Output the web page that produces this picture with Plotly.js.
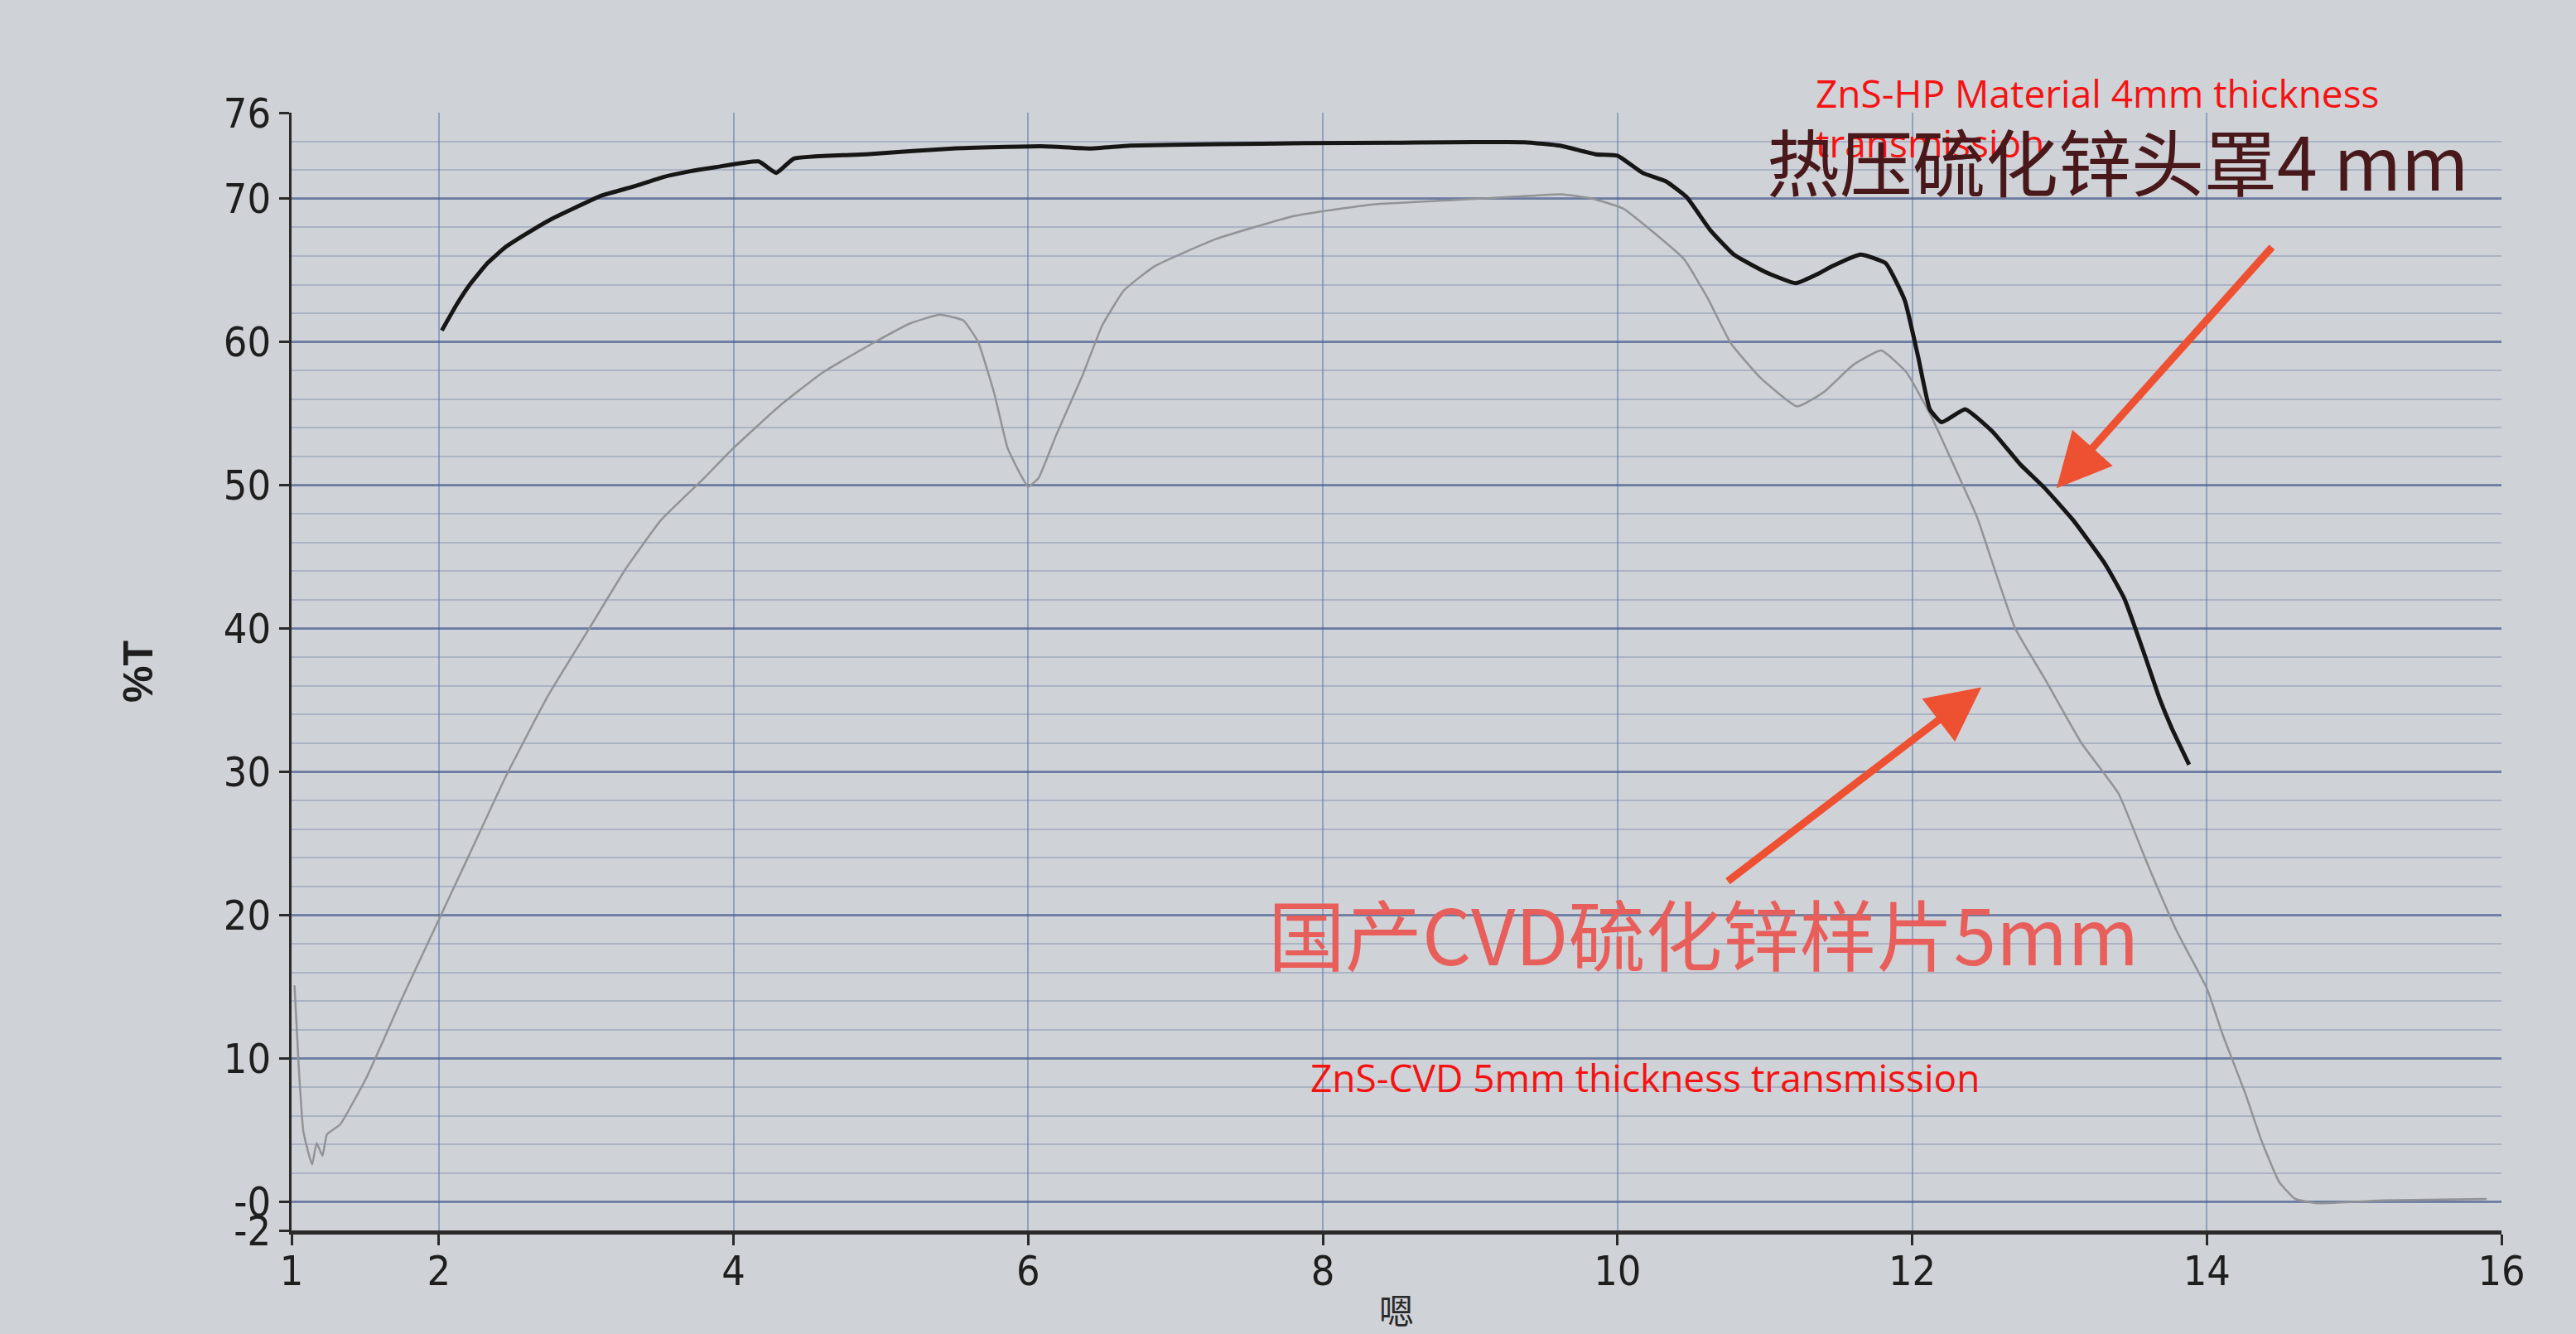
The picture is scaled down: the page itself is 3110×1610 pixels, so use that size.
<!DOCTYPE html>
<html><head><meta charset="utf-8">
<script src="https://cdn.plot.ly/plotly-3.0.1.min.js"></script>
<style>html,body{margin:0;padding:0;background:#cfd2d6;}</style>
</head><body>
<div id="chart" style="width:3110px;height:1610px;"></div>
<script>
// Hot-pressed ZnS dome, 4 mm (black trace)
const wavelengthHP = [2.02, 2.12, 2.21, 2.33, 2.45, 2.57, 2.75, 2.93, 3.1, 3.34, 3.52, 3.70, 3.88, 4.17, 4.29, 4.41, 4.9, 5.49, 6.09, 6.42, 6.69, 7.28, 7.88, 8.48, 9.37, 9.61, 9.85, 10.0, 10.17, 10.33, 10.47, 10.63, 10.79, 11.0, 11.21, 11.37, 11.46, 11.65, 11.82, 11.95, 12.04, 12.12, 12.2, 12.36, 12.55, 12.73, 12.9, 13.09, 13.31, 13.44, 13.57, 13.68, 13.76, 13.88];
const transHP = [60.8, 62.6, 64.0, 65.5, 66.6, 67.4, 68.5, 69.4, 70.2, 70.9, 71.5, 71.9, 72.2, 72.6, 71.8, 72.8, 73.1, 73.5, 73.66, 73.5, 73.7, 73.8, 73.87, 73.9, 73.94, 73.7, 73.1, 73.0, 71.8, 71.2, 70.1, 67.8, 66.1, 64.9, 64.1, 64.8, 65.3, 66.1, 65.5, 62.9, 59.0, 55.3, 54.4, 55.3, 53.7, 51.5, 49.8, 47.6, 44.5, 42.1, 38.4, 35.1, 33.1, 30.5];

// Domestic CVD ZnS sample, 5 mm (grey trace)
const wavelengthCVD = [1.02, 1.05, 1.08, 1.12, 1.14, 1.17, 1.21, 1.24, 1.33, 1.51, 1.75, 2.0, 2.21, 2.46, 2.74, 3.02, 3.27, 3.51, 3.80, 4.0, 4.32, 4.61, 4.96, 5.2, 5.4, 5.56, 5.66, 5.77, 5.86, 5.94, 6.0, 6.07, 6.19, 6.37, 6.5, 6.65, 6.86, 7.28, 7.81, 8.34, 8.88, 9.41, 9.62, 9.83, 10.04, 10.25, 10.45, 10.61, 10.77, 10.97, 11.22, 11.4, 11.6, 11.79, 11.96, 12.13, 12.3, 12.44, 12.58, 12.7, 12.9, 13.15, 13.4, 13.6, 13.8, 14.0, 14.11, 14.26, 14.37, 14.49, 14.6, 14.75, 15.2, 15.9];
const transCVD = [15.1, 9.2, 4.9, 3.2, 2.6, 4.1, 3.2, 4.7, 5.4, 8.7, 14.2, 19.7, 24.3, 29.8, 35.3, 40.0, 44.2, 47.6, 50.5, 52.6, 55.6, 57.9, 60.0, 61.3, 61.9, 61.5, 60.0, 56.4, 52.6, 50.9, 49.9, 50.5, 53.5, 57.7, 61.1, 63.6, 65.3, 67.2, 68.8, 69.6, 69.9, 70.2, 70.3, 70.0, 69.3, 67.6, 65.8, 63.1, 59.9, 57.5, 55.5, 56.5, 58.4, 59.4, 57.9, 54.8, 51.0, 47.8, 43.5, 40.0, 36.5, 32.0, 28.5, 23.5, 18.8, 14.9, 11.6, 7.6, 4.3, 1.4, 0.2, -0.1, 0.1, 0.2];

const xTickVals = [1, 2, 4, 6, 8, 10, 12, 14, 16];
const xTickText = ['1', '2', '4', '6', '8', '10', '12', '14', '16'];
const yTickVals = [-2, 0, 10, 20, 30, 40, 50, 60, 70, 76];
const yTickText = ['-2', '-0', '10', '20', '30', '40', '50', '60', '70', '76'];

const xTitle = '嗯';
const yTitle = '%T';
const labelHP = 'ZnS-HP Material 4mm thickness<br>transmission';
const labelHPcn = '热压硫化锌头罩4 mm';
const labelCVDcn = '国产CVD硫化锌样片5mm';
const labelCVD = 'ZnS-CVD 5mm thickness transmission';

const paper = '#cfd2d6';
const tickFont = {family: '"Liberation Sans Narrow", "DejaVu Sans Condensed", "Liberation Sans", sans-serif', size: 50, color: '#1e1e1e'};
const arrowColor = 'rgb(238,80,50)';

const traces = [
  {x: wavelengthCVD, y: transCVD, type: 'scatter', mode: 'lines', name: labelCVD,
   line: {color: 'rgb(146,147,150)', width: 2.5, shape: 'spline', smoothing: 0.4}, hoverinfo: 'x+y'},
  {x: wavelengthHP, y: transHP, type: 'scatter', mode: 'lines', name: labelHP,
   line: {color: 'rgb(22,22,22)', width: 5, shape: 'spline', smoothing: 0.4}, hoverinfo: 'x+y'}
];

const layout = {
  width: 3110, height: 1610,
  margin: {l: 352, r: 90, t: 136, b: 125},
  paper_bgcolor: paper, plot_bgcolor: paper,
  showlegend: false,
  xaxis: {
    range: [1, 16], tickmode: 'array', tickvals: xTickVals, ticktext: xTickText,
    showline: true, linecolor: '#2a2a2a', linewidth: 5,
    ticks: 'outside', ticklen: 13, tickwidth: 3, tickcolor: '#2a2a2a',
    tickfont: tickFont, ticklabelstandoff: -12,
    showgrid: true, gridcolor: 'rgba(80,110,170,0.5)', gridwidth: 2,
    zeroline: false,
    title: {text: xTitle, font: {family: '"Noto Sans CJK SC", sans-serif', size: 42, color: '#2a2a2a'}, standoff: 20}
  },
  yaxis: {
    range: [-2, 76], tickmode: 'array', tickvals: yTickVals, ticktext: yTickText,
    showline: true, linecolor: '#2a2a2a', linewidth: 3,
    ticks: 'outside', ticklen: 12, tickwidth: 3, tickcolor: '#2a2a2a',
    tickfont: tickFont,
    showgrid: true, gridcolor: 'rgba(70,90,140,0.62)', gridwidth: 3,
    zeroline: false,
    minor: {tick0: 0, dtick: 2, showgrid: true, gridcolor: 'rgba(90,110,160,0.3)', gridwidth: 2, ticks: ''},
    title: {text: yTitle, font: {family: '"Liberation Sans Narrow", "Liberation Sans", sans-serif', size: 50, color: '#1e1e1e', weight: 'bold'}, standoff: 70}
  },
  annotations: [
    {xref: 'paper', yref: 'paper', x: 0.6889, y: 0.9956, xanchor: 'left', yanchor: 'middle', align: 'left',
     text: labelHP, showarrow: false, font: {family: '"Open Sans", sans-serif', size: 46, color: 'rgb(245,18,18)'}},
    {xref: 'paper', yref: 'paper', x: 0.6668, y: 0.9585, xanchor: 'left', yanchor: 'middle',
     text: labelHPcn, showarrow: false, font: {family: '"Noto Sans CJK SC", sans-serif', size: 88, color: 'rgb(72,24,26)'}},
    {xref: 'paper', yref: 'paper', x: 0.441, y: 0.2676, xanchor: 'left', yanchor: 'middle',
     text: labelCVDcn, showarrow: false, font: {family: '"Noto Sans CJK SC", sans-serif', size: 93, color: 'rgb(232,94,90)'}},
    {xref: 'paper', yref: 'paper', x: 0.4603, y: 0.137, xanchor: 'left', yanchor: 'middle',
     text: labelCVD, showarrow: false, font: {family: '"Open Sans", sans-serif', size: 46, color: 'rgb(245,18,18)'}},
    {xref: 'x', yref: 'y', axref: 'x', ayref: 'y', x: 12.98, y: 49.8, ax: 14.45, ay: 66.7,
     text: '', showarrow: true, arrowhead: 2, arrowsize: 1.45, arrowwidth: 9, arrowcolor: arrowColor, standoff: 0},
    {xref: 'x', yref: 'y', axref: 'x', ayref: 'y', x: 12.47, y: 35.9, ax: 10.74, ay: 22.3,
     text: '', showarrow: true, arrowhead: 2, arrowsize: 1.45, arrowwidth: 9, arrowcolor: arrowColor, standoff: 0}
  ]
};

Plotly.newPlot('chart', traces, layout, {displayModeBar: false, staticPlot: true});
</script>
</body></html>
